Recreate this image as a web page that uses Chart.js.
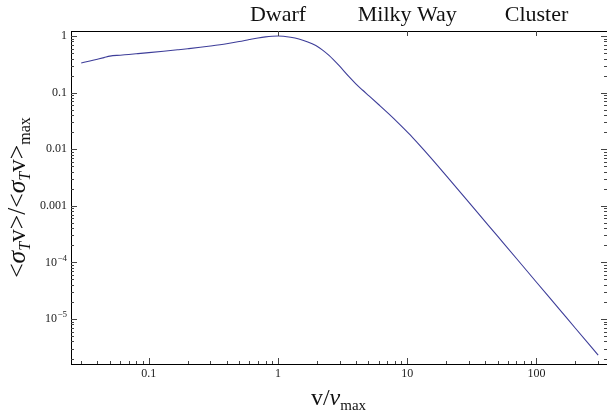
<!DOCTYPE html>
<html>
<head>
<meta charset="utf-8">
<script src="https://cdn.jsdelivr.net/npm/chart.js@4.4.0/dist/chart.umd.min.js"></script>
<style>
  html, body { margin: 0; padding: 0; background: #fff; }
  #wrap { width: 609px; height: 416px; position: relative; }
</style>
</head>
<body>
<div id="wrap"><canvas id="crossSection"></canvas></div>
<script>
// velocity in units of v_max
var velocity = [0.03, 0.035, 0.04, 0.045, 0.05, 0.06, 0.07, 0.08, 0.1, 0.13, 0.17, 0.2, 0.25, 0.3, 0.4, 0.5, 0.6, 0.7, 0.8, 0.9, 1, 1.1, 1.25, 1.45, 1.7, 1.96, 2.2, 2.48, 2.96, 3.54, 4, 4.5, 5.06, 6, 7.2, 8.5, 10.3, 12, 15, 20, 30, 50, 70, 100, 150, 200, 300];
// <sigma_T v> / <sigma_T v>_max
var sigmaV = [0.333, 0.362, 0.389, 0.415, 0.441, 0.458, 0.472, 0.485, 0.508, 0.538, 0.573, 0.596, 0.631, 0.665, 0.730, 0.798, 0.866, 0.924, 0.966, 0.991, 1.0, 0.991, 0.953, 0.885, 0.786, 0.677, 0.569, 0.453, 0.301, 0.191, 0.143, 0.111, 0.0873, 0.0615, 0.0420, 0.0292, 0.0188, 0.0129, 0.00731, 0.00341, 0.00115, 0.00029, 0.000117, 0.0000445, 0.0000149, 0.00000685, 0.0000023];

var xTickValues = [0.1, 1, 10, 100];
var xTickLabels = ['0.1', '1', '10', '100'];
var yTickValues = [1, 0.1, 0.01, 0.001, 1e-4, 1e-5];
var yTickLabels = ['1', '0.1', '0.01', '0.001', '10^\u22124', '10^\u22125'];
var topTickValues = [1, 10, 100];
var topTickLabels = ['Dwarf', 'Milky Way', 'Cluster'];

var serif = "'Liberation Serif', 'Times New Roman', serif";

function findLabel(value, values, labels) {
    for (var i = 0; i < values.length; i++) {
        if (Math.abs(Math.log10(value) - Math.log10(values[i])) < 1e-6) return labels[i];
    }
    return '';
}

// draws a run of text pieces (normal / italic / subscript) centred at 0,0
function drawRuns(ctx, runs) {
    var total = 0;
    runs.forEach(function(r) {
        ctx.font = r.font;
        r.w = ctx.measureText(r.t).width;
        total += r.w;
    });
    var x = -total / 2;
    runs.forEach(function(r) {
        ctx.font = r.font;
        ctx.fillText(r.t, x, r.dy || 0);
        x += r.w;
    });
}

var frameTicks = {
    id: 'frameTicks',
    afterDraw: function(chart) {
        var ctx = chart.ctx;
        var area = chart.chartArea;
        var xs = chart.scales.x;
        var ys = chart.scales.y;
        var e, m, v, p, len;

        ctx.save();
        ctx.strokeStyle = '#444';
        ctx.lineWidth = 1;
        ctx.beginPath();
        // bottom axis, minor + major
        for (e = -2; e <= 2; e++) {
            for (m = 1; m <= 9; m++) {
                v = m * Math.pow(10, e);
                if (v <= xs.min || v >= xs.max) continue;
                p = Math.round(xs.getPixelForValue(v)) + 0.5;
                len = m === 1 ? 6 : 3;
                ctx.moveTo(p, area.bottom);
                ctx.lineTo(p, area.bottom - len);
            }
        }
        // top axis, majors only
        topTickValues.forEach(function(t) {
            var px = Math.round(xs.getPixelForValue(t)) + 0.5;
            ctx.moveTo(px, area.top);
            ctx.lineTo(px, area.top + 5);
        });
        // left and right axes
        for (e = -6; e <= 0; e++) {
            for (m = 1; m <= 9; m++) {
                v = m * Math.pow(10, e);
                if (v <= ys.min || v >= ys.max) continue;
                p = Math.round(ys.getPixelForValue(v)) + 0.5;
                len = m === 1 ? 6 : 3;
                ctx.moveTo(area.left, p);
                ctx.lineTo(area.left + len, p);
                ctx.moveTo(area.right + 1, p);
                ctx.lineTo(area.right + 1 - len, p);
            }
        }
        ctx.stroke();

        // y tick labels (with superscripts)
        ctx.fillStyle = '#222';
        ctx.textBaseline = 'middle';
        ctx.textAlign = 'right';
        yTickValues.forEach(function(t, i) {
            var py = ys.getPixelForValue(t);
            var lab = yTickLabels[i];
            var rx = area.left - 4;
            if (lab.indexOf('^') >= 0) {
                var parts = lab.split('^');
                ctx.font = '9px ' + serif;
                var ew = ctx.measureText(parts[1]).width;
                ctx.fillText(parts[1], rx, py - 4);
                ctx.font = '12px ' + serif;
                ctx.fillText(parts[0], rx - ew - 0.5, py);
            } else {
                ctx.font = '12px ' + serif;
                ctx.fillText(lab, rx, py);
            }
        });

        // axis titles
        ctx.fillStyle = '#111';
        ctx.textAlign = 'left';
        ctx.textBaseline = 'alphabetic';
        var big = '24px ' + serif;
        var bigIt = 'italic 24px ' + serif;
        var sub = '15px ' + serif;

        ctx.save();
        ctx.translate((area.left + area.right) / 2, 405);
        drawRuns(ctx, [
            { t: 'v', font: big },
            { t: '/', font: big },
            { t: '\u03bd', font: bigIt },
            { t: 'max', font: sub, dy: 5 }
        ]);
        ctx.restore();

        var yBig = '25.5px ' + serif;
        var yBigIt = 'italic 25.5px ' + serif;
        var ySub = '16px ' + serif;
        var ySubIt = 'italic 16px ' + serif;
        ctx.save();
        ctx.translate(25, (area.top + area.bottom) / 2);
        ctx.rotate(-Math.PI / 2);
        drawRuns(ctx, [
            { t: '<', font: yBig },
            { t: '\u03c3', font: yBigIt },
            { t: 'T', font: ySubIt, dy: 5 },
            { t: 'v', font: yBig },
            { t: '>', font: yBig },
            { t: '/', font: yBig },
            { t: '<', font: yBig },
            { t: '\u03c3', font: yBigIt },
            { t: 'T', font: ySubIt, dy: 5 },
            { t: 'v', font: yBig },
            { t: '>', font: yBig },
            { t: 'max', font: ySub, dy: 5 }
        ]);
        ctx.restore();
        ctx.restore();
    }
};

var points = velocity.map(function(v, i) { return { x: v, y: sigmaV[i] }; });

new Chart(document.getElementById('crossSection'), {
    type: 'scatter',
    data: {
        datasets: [{
            data: points,
            showLine: true,
            borderColor: '#3d3d99',
            borderWidth: 1.1,
            pointRadius: 0,
            cubicInterpolationMode: 'monotone',
            fill: false
        }]
    },
    options: {
        responsive: true,
        maintainAspectRatio: false,
        animation: false,
        layout: { padding: { left: 0, right: 2, top: 0, bottom: 0 } },
        plugins: {
            legend: { display: false },
            tooltip: { enabled: false }
        },
        scales: {
            x: {
                type: 'logarithmic',
                position: 'bottom',
                min: 0.025,
                max: 345,
                grid: { display: false, drawTicks: false },
                border: { display: true, color: '#000', width: 1 },
                ticks: {
                    autoSkip: false,
                    maxRotation: 0,
                    padding: 3,
                    color: '#222',
                    font: { family: serif, size: 12 },
                    callback: function(value) { return findLabel(value, xTickValues, xTickLabels); }
                },
                afterFit: function(s) { s.height = 52; }
            },
            x2: {
                type: 'logarithmic',
                position: 'top',
                min: 0.025,
                max: 345,
                grid: { display: false, drawTicks: false },
                border: { display: true, color: '#000', width: 1 },
                ticks: {
                    autoSkip: false,
                    maxRotation: 0,
                    padding: 3,
                    color: '#111',
                    font: { family: serif, size: 22 },
                    callback: function(value) { return findLabel(value, topTickValues, topTickLabels); }
                },
                afterFit: function(s) { s.height = 31; }
            },
            y: {
                type: 'logarithmic',
                position: 'left',
                min: 1.6e-6,
                max: 1.225,
                grid: { display: false, drawTicks: false },
                border: { display: true, color: '#000', width: 1 },
                ticks: { display: false },
                afterFit: function(s) { s.width = 71; }
            }
        }
    },
    plugins: [frameTicks]
});
</script>
</body>
</html>
